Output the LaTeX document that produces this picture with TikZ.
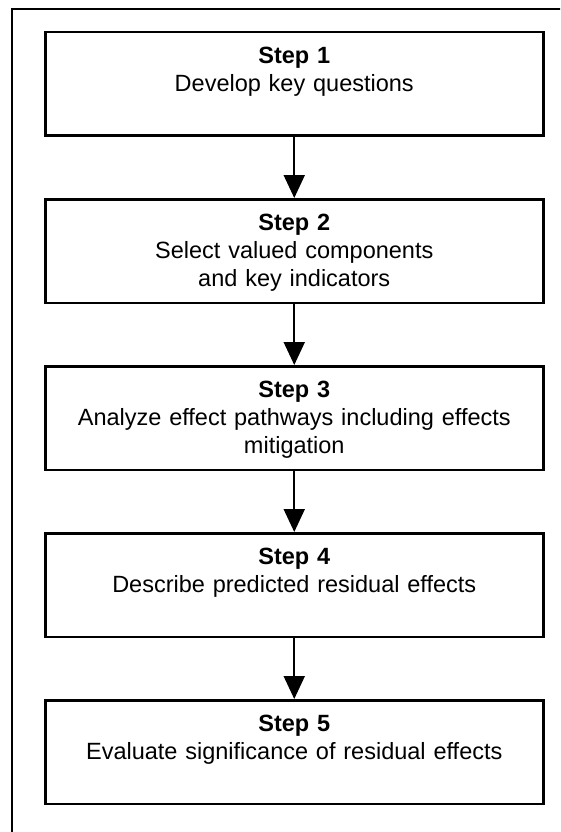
\documentclass[tikz,border=0pt]{standalone}
\usepackage{fontspec}
\setmainfont{Liberation Sans}
\usetikzlibrary{arrows.meta}
\begin{document}
\begin{tikzpicture}[x=1pt,y=1pt,
  stepbox/.style={draw=black, line width=2.5pt, minimum width=498pt,
    minimum height=103.5pt, inner sep=0pt, anchor=north west},
  steptext/.style={anchor=north, align=center, inner sep=0pt, text width=480pt,
    font=\fontsize{23.5}{28}\selectfont},
  flow/.style={line width=2pt, -{Triangle[length=23pt,width=21pt]}}]
\useasboundingbox (0,0) rectangle (560,-832);
% outer frame, running off the page on the right and at the bottom
\begin{scope}
  \clip (0,0) rectangle (560,-832);
  \draw[line width=1.8pt] (12,-9) rectangle (600,-900);
\end{scope}
% the five step boxes
\node[stepbox] (s1) at (44,-31) {};
\node[stepbox] (s2) at (44,-198) {};
\node[stepbox] (s3) at (44,-365) {};
\node[stepbox] (s4) at (44,-532) {};
\node[stepbox] (s5) at (44,-699) {};
% their texts, set near the top of each box
\node[steptext] (t1) at ([yshift=-15.5pt]s1.north) {\textbf{Step 1}\\Develop key questions};
\node[steptext] (t2) at ([yshift=-15.5pt]s2.north) {\textbf{Step 2}\\Select valued components\\and key indicators};
\node[steptext] (t3) at ([yshift=-15.5pt]s3.north) {\textbf{Step 3}\\Analyze effect pathways including effects\\mitigation};
\node[steptext] (t4) at ([yshift=-15.5pt]s4.north) {\textbf{Step 4}\\Describe predicted residual effects};
\node[steptext] (t5) at ([yshift=-15.5pt]s5.north) {\textbf{Step 5}\\Evaluate significance of residual effects};
% connectors
\draw[flow] (s1.south) -- (s2.north);
\draw[flow] (s2.south) -- (s3.north);
\draw[flow] (s3.south) -- (s4.north);
\draw[flow] (s4.south) -- (s5.north);
\end{tikzpicture}
\end{document}
